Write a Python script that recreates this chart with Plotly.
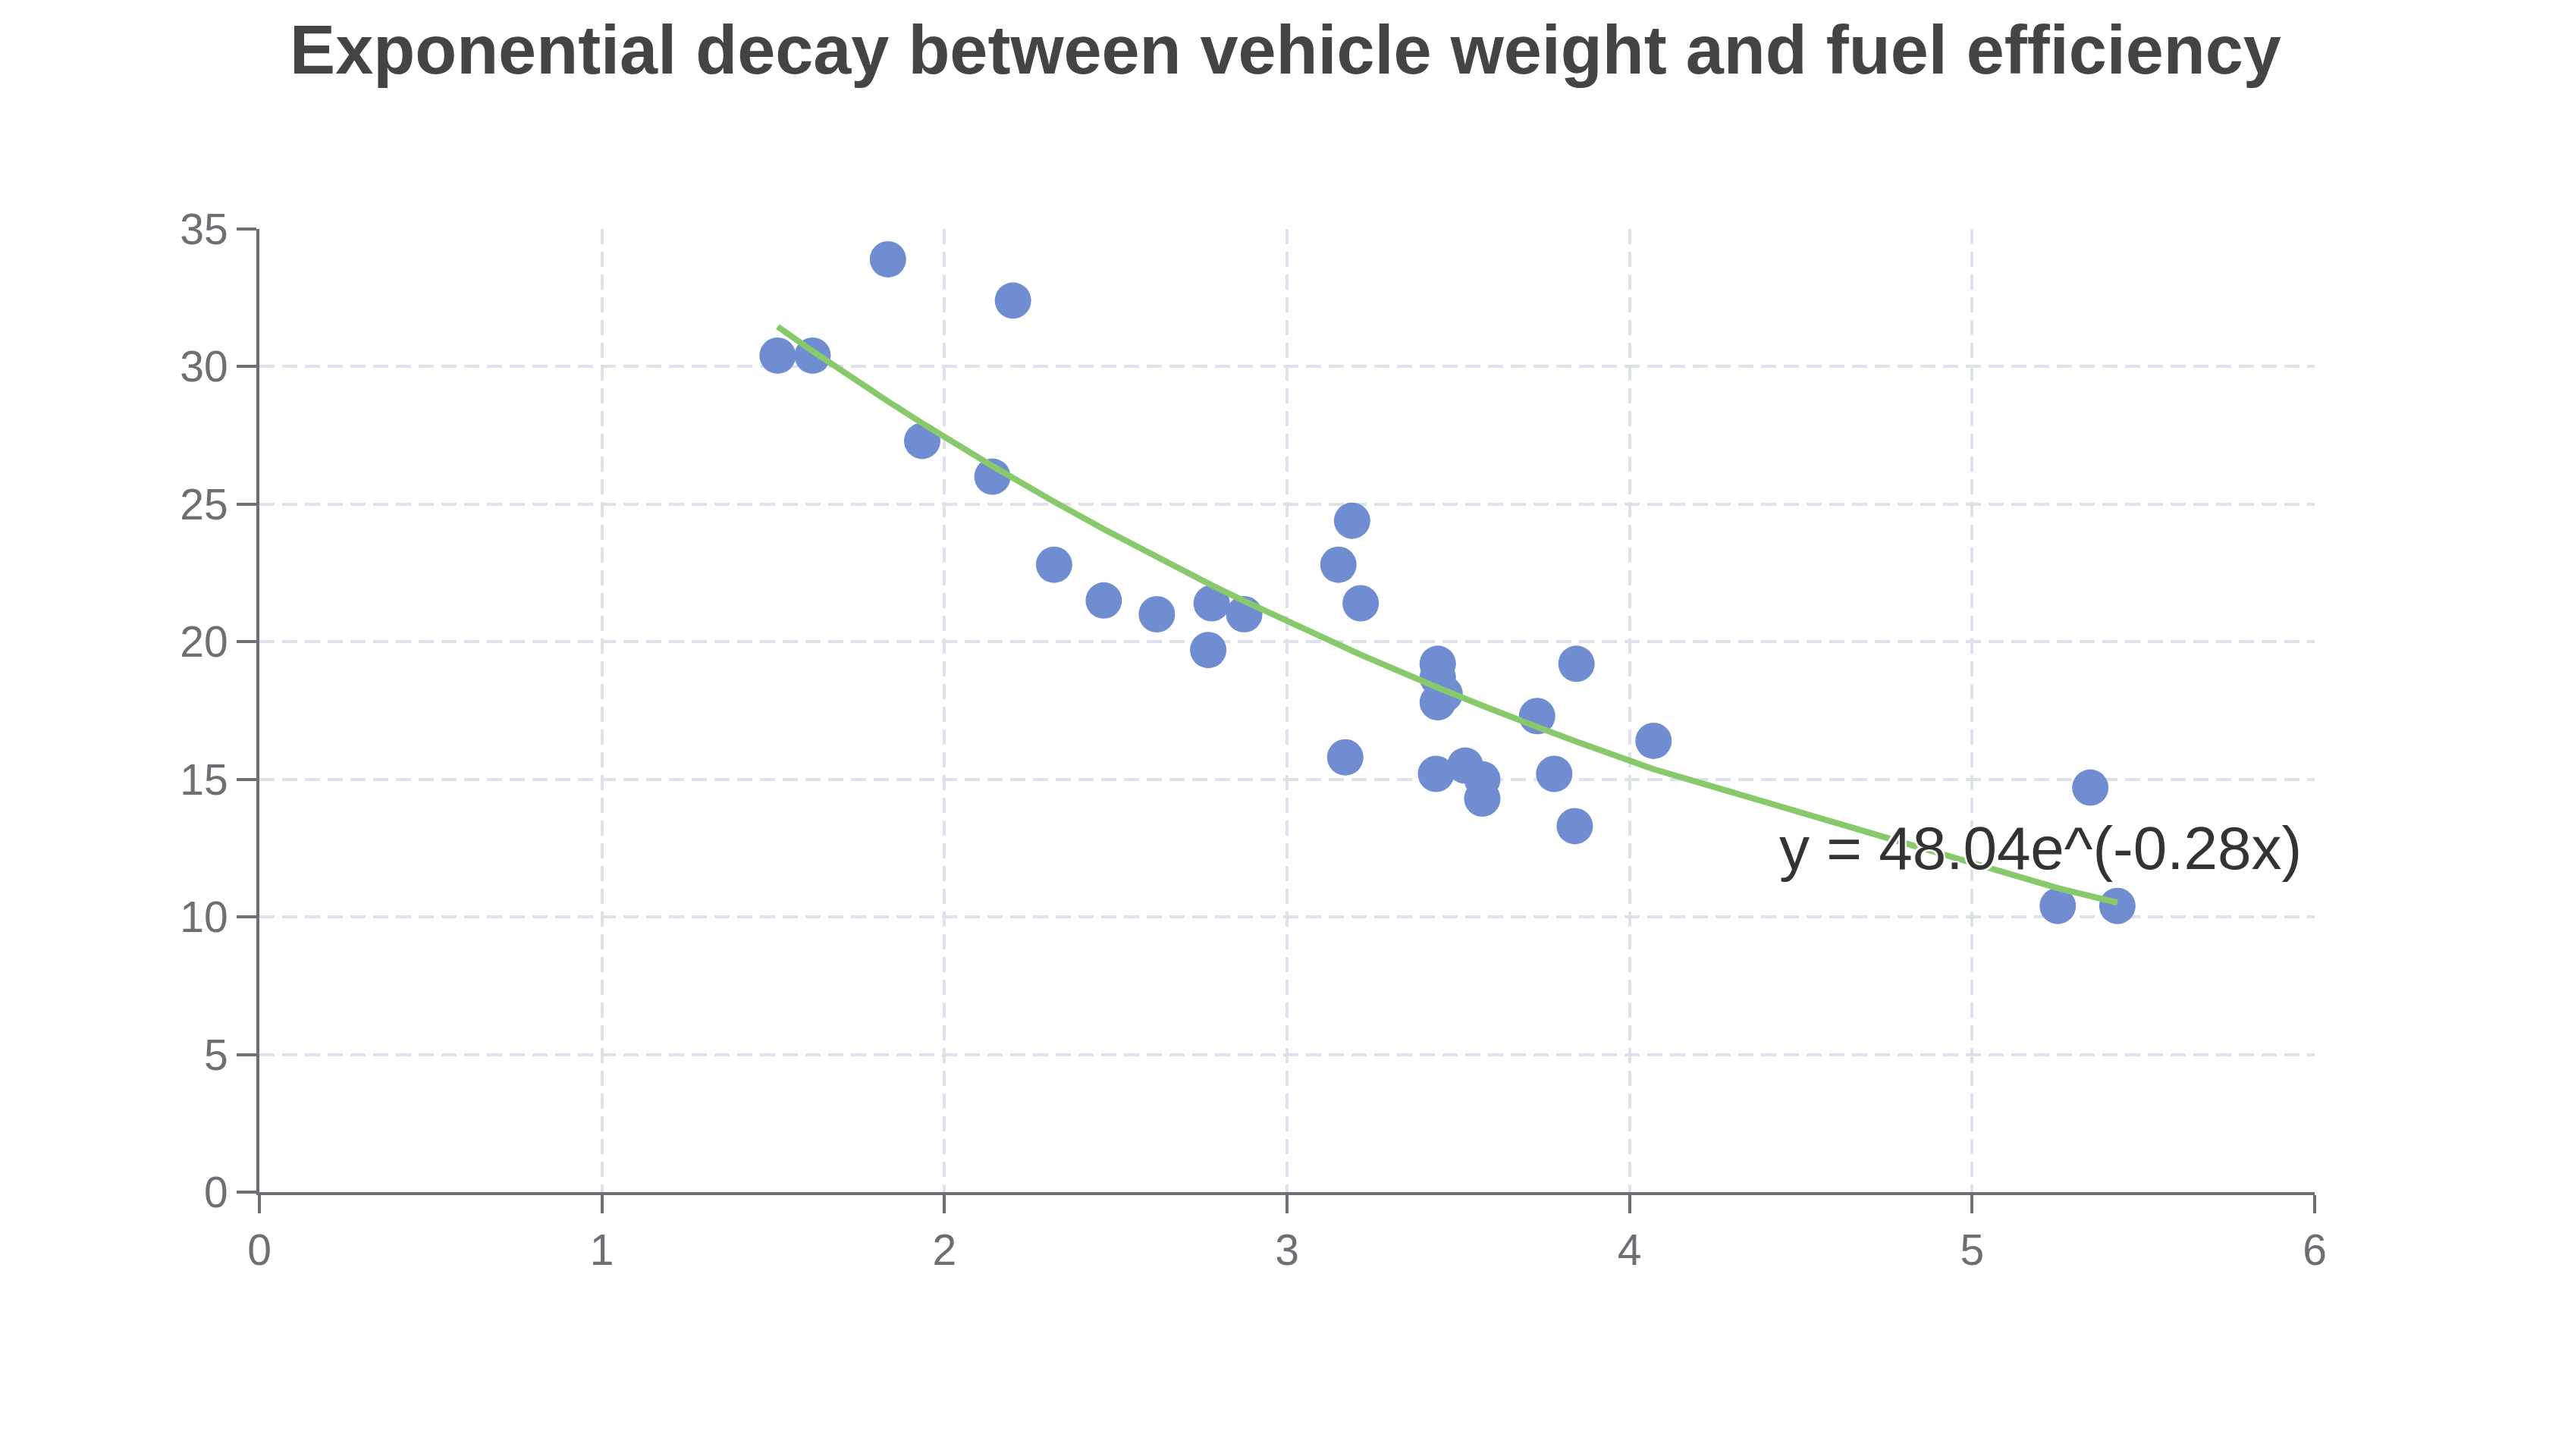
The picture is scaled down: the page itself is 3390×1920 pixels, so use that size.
import numpy as np
import plotly.graph_objects as go

# mtcars: weight (1000 lbs) and mpg
weight = [2.620, 2.875, 2.320, 3.215, 3.440, 3.460, 3.570, 3.190, 3.150, 3.440,
          3.440, 4.070, 3.730, 3.780, 5.250, 5.424, 5.345, 2.200, 1.615, 1.835,
          2.465, 3.520, 3.435, 3.840, 3.845, 1.935, 2.140, 1.513, 3.170, 2.770,
          3.570, 2.780]
mpg = [21.0, 21.0, 22.8, 21.4, 18.7, 18.1, 14.3, 24.4, 22.8, 19.2,
       17.8, 16.4, 17.3, 15.2, 10.4, 10.4, 14.7, 32.4, 30.4, 33.9,
       21.5, 15.5, 15.2, 13.3, 19.2, 27.3, 26.0, 30.4, 15.8, 19.7,
       15.0, 21.4]

fit_a = 48.04
fit_b = -0.28
x_ticks = [0, 1, 2, 3, 4, 5, 6]
y_ticks = [0, 5, 10, 15, 20, 25, 30, 35]

xs = np.array(sorted(weight))
ys = fit_a * np.exp(fit_b * xs)

axis_color = "#6e6f75"
grid_color = "#dde1ec"
tick_font = dict(family="Liberation Sans, Arial, sans-serif", size=57, color=axis_color)

fig = go.Figure()
fig.add_trace(go.Scatter(
    x=weight, y=mpg, mode="markers",
    marker=dict(size=48, color="#6f8dd0", line=dict(width=0)),
    showlegend=False,
))
fig.add_trace(go.Scatter(
    x=xs, y=ys, mode="lines",
    line=dict(color="#88c96c", width=8),
    showlegend=False,
))

fig.add_annotation(
    x=5.2, y=12.5, xref="x", yref="y",
    text=f"y = {fit_a:.2f}e^({fit_b:.2f}x)",
    showarrow=False,
    font=dict(family="Liberation Sans, Arial, sans-serif", size=80, color="#333333",
              shadow="2px 2px 0 white, -2px -2px 0 white, 2px -2px 0 white, -2px 2px 0 white"),
    xanchor="center", yanchor="middle",
)

fig.update_layout(
    width=3390, height=1920,
    paper_bgcolor="white", plot_bgcolor="white",
    margin=dict(l=342, r=338, t=302, b=348),
    title=dict(
        text="<b>Exponential decay between vehicle weight and fuel efficiency</b>",
        x=0.5, xanchor="center", y=1 - 65 / 1920, yanchor="middle", yref="container",
        font=dict(family="Liberation Sans, Arial, sans-serif", size=90, color="#444444"),
    ),
)
fig.update_xaxes(
    range=[0, 6], tickvals=x_ticks, ticktext=[str(v) for v in x_ticks],
    showline=True, linecolor=axis_color, linewidth=4,
    ticks="outside", ticklen=24, tickwidth=4, tickcolor=axis_color,
    showgrid=True, gridcolor=grid_color, gridwidth=4, griddash="20px,10px",
    zeroline=False, tickfont=tick_font,
)
fig.update_yaxes(
    range=[0, 35], tickvals=y_ticks, ticktext=[str(v) for v in y_ticks],
    showline=True, linecolor=axis_color, linewidth=4,
    ticks="outside", ticklen=26, tickwidth=4, tickcolor=axis_color,
    showgrid=True, gridcolor=grid_color, gridwidth=4, griddash="20px,10px",
    zeroline=False, tickfont=tick_font,
)

fig.write_html("out.html", config={"displayModeBar": False},
               post_script="document.body.style.margin='0';document.body.style.overflow='hidden';")
